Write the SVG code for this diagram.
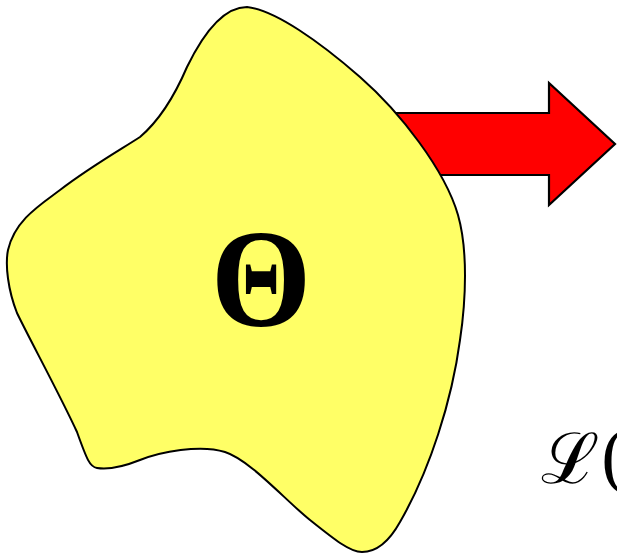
<svg xmlns="http://www.w3.org/2000/svg" width="617" height="555" viewBox="0 0 617 555">
<style>
.blob{fill:#ffff66;stroke:#000;stroke-width:2;stroke-linejoin:round}
.arrow{fill:#ff0000;stroke:#000;stroke-width:2.2;stroke-linejoin:miter}
.theta{font-family:"Liberation Serif","DejaVu Serif",serif;font-weight:bold;fill:#000}
.lbl{font-family:"DejaVu Serif","Liberation Serif",serif;fill:#000}
</style>
<rect width="617" height="555" fill="#fff"/>
<g id="connectors">
<path class="arrow" d="M385,113 L549,113 L549,83 L615,144 L549,205 L549,175 L385,175 Z"/>
</g>
<g id="theta-region">
<path class="blob" d="M247,7 C275,10 320,42 360,77 C400,112 445,170 458,215 C468,250 466,300 460,340 C452,400 430,470 400,522 C390,540 378,552 362,552 C350,552 335,540 310,520 C285,500 250,460 225,452 C200,444 160,452 140,460 C125,466 110,470 97,468 C90,467 87,460 77,432 C60,395 30,340 17,313 C8,290 5,265 8,250 C15,220 40,205 60,190 C90,167 120,150 140,137 C160,120 175,95 187,67 C205,30 225,7 247,7 Z"/>
<text class="theta" transform="translate(261,326) scale(0.92,1)" x="0" y="0" font-size="140" text-anchor="middle">Θ</text>
</g>
<g id="likelihood">
<text class="lbl" x="541" y="483" font-size="70">ℒ(</text>
</g>
</svg>
